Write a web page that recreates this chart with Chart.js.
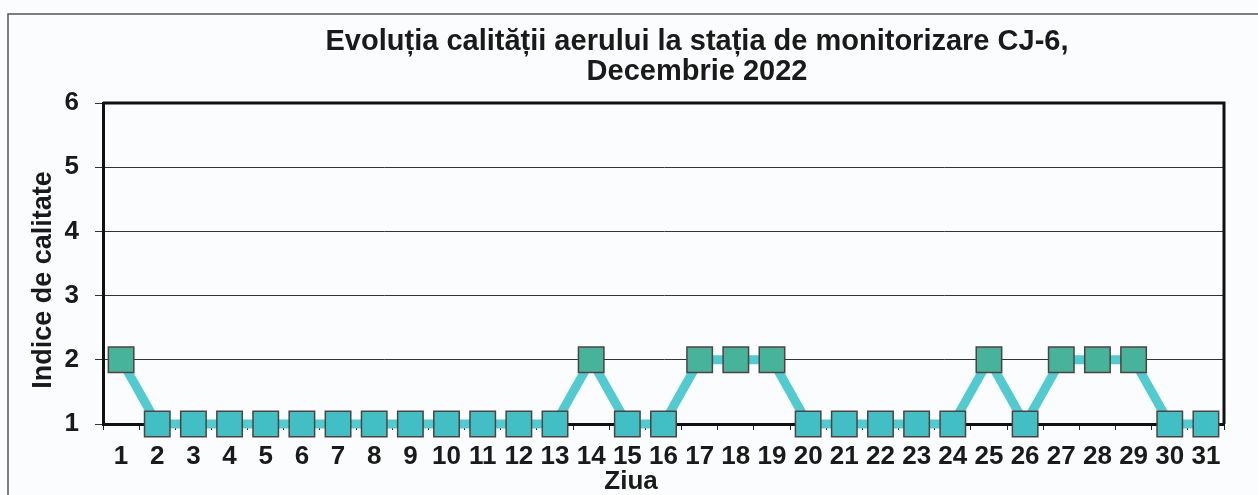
<!DOCTYPE html>
<html>
<head>
<meta charset="utf-8">
<script src="https://cdn.jsdelivr.net/npm/chart.js@4"></script>
<style>
  body { margin: 0; background: #fbfcfd; }
  canvas { display: block; }
</style>
</head>
<body>
<canvas id="myChart" width="1258" height="495"></canvas>
<script>
// data
const days = ["1", "2", "3", "4", "5", "6", "7", "8", "9", "10", "11", "12", "13", "14", "15", "16",
  "17", "18", "19", "20", "21", "22", "23", "24", "25", "26", "27", "28", "29", "30", "31"];
const indexValues = [2, 1, 1, 1, 1, 1, 1, 1, 1, 1, 1, 1, 1, 2, 1, 1, 2, 2, 2, 1, 1, 1, 1, 1, 2, 1, 2, 2, 2, 1, 1];
const yTicks = [1, 2, 3, 4, 5, 6];

const titleLines = ["Evoluția calității aerului la stația de monitorizare CJ-6,", "Decembrie 2022"];
const yTitle = "Indice de calitate";
const xTitle = "Ziua";

const FONT = '"Liberation Sans", Arial, sans-serif';

// square colour depends on value
const pointColors = indexValues.map((v) => (v >= 2 ? "#46b39a" : "#42bfc4"));

// frame, plot border and texts
const decor = {
  id: "decor",
  afterDraw(chart) {
    const ctx = chart.ctx;
    const a = chart.chartArea;
    ctx.save();
    // outer frame of the scanned figure
    ctx.strokeStyle = "#555";
    ctx.lineWidth = 1.5;
    ctx.beginPath();
    ctx.moveTo(1258, 14);
    ctx.lineTo(8, 14);
    ctx.lineTo(8, 495);
    ctx.stroke();

    // top and right side of plot area
    ctx.strokeStyle = "#111";
    ctx.lineWidth = 3;
    ctx.beginPath();
    ctx.moveTo(a.left, a.top);
    ctx.lineTo(a.right, a.top);
    ctx.lineTo(a.right, a.bottom);
    ctx.stroke();

    ctx.fillStyle = "#1a1a1a";
    ctx.textAlign = "center";
    ctx.textBaseline = "alphabetic";
    ctx.font = "bold 29px " + FONT;
    ctx.fillText(titleLines[0], 697, 50);
    ctx.fillText(titleLines[1], 697, 80);

    ctx.font = "bold 26px " + FONT;
    ctx.fillText(xTitle, 631, 489);

    ctx.font = "bold 27px " + FONT;
    ctx.translate(44, 280);
    ctx.rotate(-Math.PI / 2);
    ctx.textBaseline = "middle";
    ctx.fillText(yTitle, 0, 0);
    ctx.restore();
  },
};

const ctx = document.getElementById("myChart");

new Chart(ctx, {
  type: "line",
  data: {
    labels: days,
    datasets: [
      {
        label: "Indice de calitate",
        data: indexValues,
        borderColor: "#52cbd0",
        borderWidth: 9,
        pointStyle: "rect",
        pointRadius: 18,
        pointHoverRadius: 18,
        pointBackgroundColor: pointColors,
        pointBorderColor: "#4f4240",
        pointBorderWidth: 1.5,
        tension: 0,
        clip: false,
      },
    ],
  },
  options: {
    responsive: false,
    animation: false,
    layout: {
      padding: { top: 103, right: 34, left: 0, bottom: 0 },
    },
    plugins: {
      legend: { display: false },
      tooltip: { enabled: false },
    },
    scales: {
      x: {
        type: "category",
        offset: true,
        afterFit: (scale) => {
          scale.height = 71;
        },
        grid: {
          offset: true,
          drawOnChartArea: false,
          drawTicks: true,
          tickLength: 6,
          color: "#222",
        },
        border: { display: true, color: "#111", width: 3 },
        ticks: {
          color: "#1a1a1a",
          padding: 11,
          maxRotation: 0,
          autoSkip: false,
          font: { family: FONT, size: 26, weight: "bold" },
        },
      },
      y: {
        min: 1,
        max: 6,
        afterFit: (scale) => {
          scale.width = 103;
        },
        afterBuildTicks: (scale) => {
          scale.ticks = yTicks.map((v) => ({ value: v }));
        },
        grid: {
          color: "#333",
          lineWidth: 1,
          tickLength: 8,
        },
        border: { display: true, color: "#111", width: 3 },
        ticks: {
          color: "#1a1a1a",
          padding: 16,
          font: { family: FONT, size: 26, weight: "bold" },
        },
      },
    },
  },
  plugins: [decor],
});
</script>
</body>
</html>
